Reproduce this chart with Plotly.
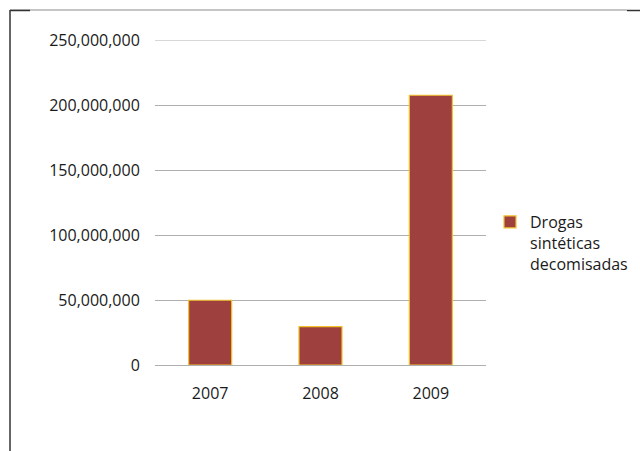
import plotly.graph_objects as go

years = ["2007", "2008", "2009"]
values = [49800000, 29500000, 207500000]
series_name = "Drogas<br>sintéticas<br>decomisadas"
tick_vals = [0, 50000000, 100000000, 150000000, 200000000, 250000000]
tick_text = ["0", "50,000,000", "100,000,000", "150,000,000", "200,000,000", "250,000,000"]

L, R, T, B = 155, 0, 40, 86
W, H = 640, 451
PLOT_RIGHT = 486
pw = W - L - R
ph = H - T - B

def px(x):
    return (x - L) / pw

def py(y):
    return (H - B - y) / ph

fig = go.Figure()
fig.add_trace(go.Bar(
    x=years, y=values, name=series_name,
    marker=dict(color="#9E413E", line=dict(color="#F2C12E", width=1.2)),
    width=0.39,
))

fig.update_layout(
    width=W, height=H,
    margin=dict(l=L, r=R, t=T, b=B, pad=0),
    paper_bgcolor="white", plot_bgcolor="white",
    font=dict(family="Open Sans", size=16, color="#1a1a1a"),
    showlegend=True,
    legend=dict(orientation="h", entrywidth=101, entrywidthmode="pixels",
                x=px(490), y=py(205), xanchor="left", yanchor="top",
                font=dict(size=16, color="#1a1a1a"), itemwidth=30,
                valign="top",
                tracegroupgap=0, bgcolor="rgba(0,0,0,0)"),
    xaxis=dict(domain=[0, px(PLOT_RIGHT)],
               showgrid=False, showline=False, zeroline=False,
               ticks="outside", ticklen=14, tickcolor="rgba(0,0,0,0)",
               tickfont=dict(size=16)),
    yaxis=dict(range=[0, 250000000], tickvals=tick_vals, ticktext=tick_text,
               showgrid=True, gridcolor="#AFAFAF", gridwidth=1,
               zeroline=True, zerolinecolor="#AFAFAF", zerolinewidth=1,
               showline=False, ticks="outside", ticklen=11,
               tickcolor="rgba(0,0,0,0)", tickfont=dict(size=16)),
    shapes=[
        dict(type="line", xref="x domain", yref="y",
             x0=0, x1=1, y0=250000000, y1=250000000,
             line=dict(color="#AFAFAF", width=1), layer="below"),
        dict(type="line", xref="paper", yref="paper",
             x0=px(10), x1=px(10), y0=py(10), y1=py(452),
             line=dict(color="#333333", width=1.5)),
        dict(type="line", xref="paper", yref="paper",
             x0=px(10), x1=px(627), y0=py(10), y1=py(10),
             line=dict(color="#8A8A8A", width=1)),
        dict(type="line", xref="paper", yref="paper",
             x0=px(627), x1=px(641), y0=py(10.5), y1=py(10.5),
             line=dict(color="#333333", width=1.5)),
        dict(type="line", xref="paper", yref="paper",
             x0=px(10), x1=px(30), y0=py(10.5), y1=py(10.5),
             line=dict(color="#333333", width=1.5)),
    ],
)

fig.write_html("out.html", config={"displayModeBar": False})

with open("out.html", "r", encoding="utf-8") as f:
    html = f.read()
html = html.replace("<head>", "<head><style>html,body{margin:0;padding:0;overflow:hidden}</style>", 1)
with open("out.html", "w", encoding="utf-8") as f:
    f.write(html)
